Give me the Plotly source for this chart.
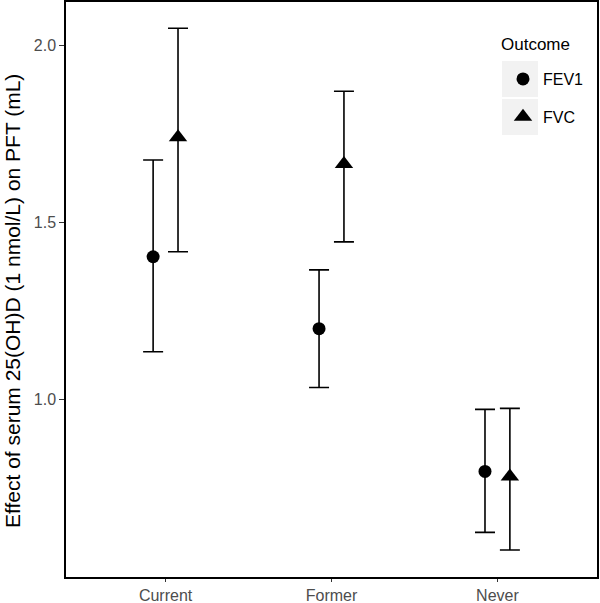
import plotly.graph_objects as go

categories = ["Current", "Former", "Never"]
outcomes = ["FEV1", "FVC"]
estimate = {"FEV1": [1.403, 1.200, 0.797], "FVC": [1.740, 1.665, 0.783]}
lower = {"FEV1": [1.135, 1.034, 0.625], "FVC": [1.417, 1.445, 0.575]}
upper = {"FEV1": [1.676, 1.366, 0.972], "FVC": [2.048, 1.870, 0.975]}
symbols = {"FEV1": "circle", "FVC": "triangle-up"}
marker_sizes = {"FEV1": 13, "FVC": 16}
dodge = {"FEV1": -0.075, "FVC": 0.075}

L, R, T, B = 66, 3, 2, 26
W, H = 600, 603
PW, PH = W - L - R, H - T - B

def px_x(px):
    return (px - L) / PW

def px_y(py):
    return (H - B - py) / PH

fig = go.Figure()
for oc in outcomes:
    xs = [i + 1 + dodge[oc] for i in range(len(categories))]
    ys = estimate[oc]
    fig.add_trace(go.Scatter(
        x=xs, y=ys, mode="markers", name=oc, legendgroup=oc,
        marker=dict(symbol=symbols[oc], size=marker_sizes[oc], color="black"),
        error_y=dict(
            type="data", symmetric=False,
            array=[u - e for u, e in zip(upper[oc], ys)],
            arrayminus=[e - l for e, l in zip(ys, lower[oc])],
            color="black", thickness=1.6, width=10,
        ),
    ))

fig.update_layout(
    width=W, height=H,
    margin=dict(l=L, r=R, t=T, b=B, autoexpand=False),
    paper_bgcolor="white", plot_bgcolor="white",
    font=dict(family="Liberation Sans, Arial, sans-serif", color="black"),
    showlegend=True,
    legend=dict(
        font=dict(size=16, color="black"),
        x=px_x(503), y=px_y(62), xanchor="left", yanchor="top",
        bgcolor="rgba(0,0,0,0)",
        tracegroupgap=14,
        itemwidth=30,
    ),
    xaxis=dict(
        range=[0.4, 3.6], tickvals=[1, 2, 3], ticktext=categories,
        showgrid=False, zeroline=False, automargin=False,
        showline=True, linecolor="black", linewidth=1.5, mirror=True,
        ticks="outside", ticklen=3, tickcolor="#333333", tickwidth=1,
        tickfont=dict(size=16, color="#4D4D4D"),
    ),
    yaxis=dict(
        range=[0.499, 2.122], tickvals=[1.0, 1.5, 2.0], ticktext=["1.0", "1.5", "2.0"],
        showgrid=False, zeroline=False, automargin=False,
        showline=True, linecolor="black", linewidth=1.5, mirror=True,
        ticks="outside", ticklen=5, tickcolor="#333333", tickwidth=1,
        tickfont=dict(size=16, color="#4D4D4D"),
    ),
    annotations=[
        dict(text="Effect of serum 25(OH)D (1 nmol/L) on PFT (mL)",
             xref="paper", yref="paper", x=px_x(12), y=px_y(301),
             xanchor="center", yanchor="middle", textangle=-90, showarrow=False,
             font=dict(size=21, color="black")),
        dict(text="Outcome", xref="paper", yref="paper", x=px_x(499), y=px_y(45),
             xanchor="left", yanchor="middle", showarrow=False,
             font=dict(size=17, color="black")),
    ],
)

# light grey legend key backgrounds (ggplot style)
for (y0, y1) in [(61, 97), (99, 135)]:
    fig.add_shape(type="rect", xref="paper", yref="paper",
                  x0=px_x(502), x1=px_x(538), y0=px_y(y1), y1=px_y(y0),
                  fillcolor="#F2F2F2", line=dict(width=0), layer="below")

fig.write_html(
    "out.html",
    config={"displayModeBar": False},
    post_script="document.body.style.margin='0';document.body.style.overflow='hidden';",
)
